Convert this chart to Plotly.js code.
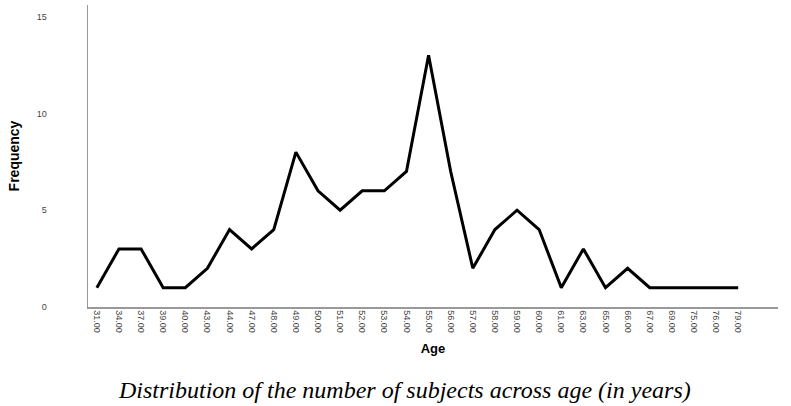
<!DOCTYPE html>
<html>
<head>
<meta charset="utf-8">
<script src="https://cdn.plot.ly/plotly-3.0.1.min.js"></script>
<style>
  body { margin: 0; background: #fff; }
  #chart { width: 791px; height: 406px; }
</style>
</head>
<body>
<div id="chart"></div>
<script>
const ages = ['31.00', '34.00', '37.00', '39.00', '40.00', '43.00', '44.00', '47.00', '48.00', '49.00',
  '50.00', '51.00', '52.00', '53.00', '54.00', '55.00', '56.00', '57.00', '58.00', '59.00',
  '60.00', '61.00', '63.00', '65.00', '66.00', '67.00', '69.00', '75.00', '76.00', '79.00']
const frequency = [1, 3, 3, 1, 1, 2, 4, 3, 4, 8,
  6, 5, 6, 6, 7, 13, 7, 2, 4, 5,
  4, 1, 3, 1, 2, 1, 1, 1, 1, 1]
const yTicks = [0, 5, 10, 15]

const line = {
  x: ages,
  y: frequency,
  type: 'scatter',
  mode: 'lines',
  line: { color: '#000', width: 3 },
  hoverinfo: 'x+y'
}

const layout = {
  width: 791,
  height: 406,
  showlegend: false,
  margin: { l: 88, r: 13, t: 5, b: 99 },
  paper_bgcolor: '#fff',
  plot_bgcolor: '#fff',
  font: { family: 'Liberation Sans, Arial, sans-serif', color: '#000' },
  xaxis: {
    type: 'category',
    range: [-0.4, 30.8],
    tickangle: 90,
    tickfont: { size: 9, color: '#444' },
    showline: true,
    linecolor: '#999',
    linewidth: 1.5,
    showgrid: false,
    zeroline: false,
    ticks: '',
    title: { text: '<b>Age</b>', font: { size: 13 }, standoff: 12 }
  },
  yaxis: {
    range: [0, 15.6],
    tickvals: yTicks,
    tickfont: { size: 9, color: '#444' },
    ticklabelstandoff: 38,
    showline: true,
    linecolor: '#999',
    linewidth: 1.5,
    showgrid: false,
    zeroline: false,
    ticks: '',
    title: { text: '<b>Frequency</b>', font: { size: 14 }, standoff: 14 }
  },
  annotations: [{
    text: '<i>Distribution of the number of subjects across age (in years)</i>',
    xref: 'paper',
    yref: 'paper',
    x: 0.458,
    y: -0.225,
    xanchor: 'center',
    yanchor: 'top',
    showarrow: false,
    font: { family: 'Liberation Serif, Times New Roman, serif', size: 24, color: '#000' }
  }]
}

Plotly.newPlot('chart', [line], layout, { displayModeBar: false, staticPlot: true })
</script>
</body>
</html>
